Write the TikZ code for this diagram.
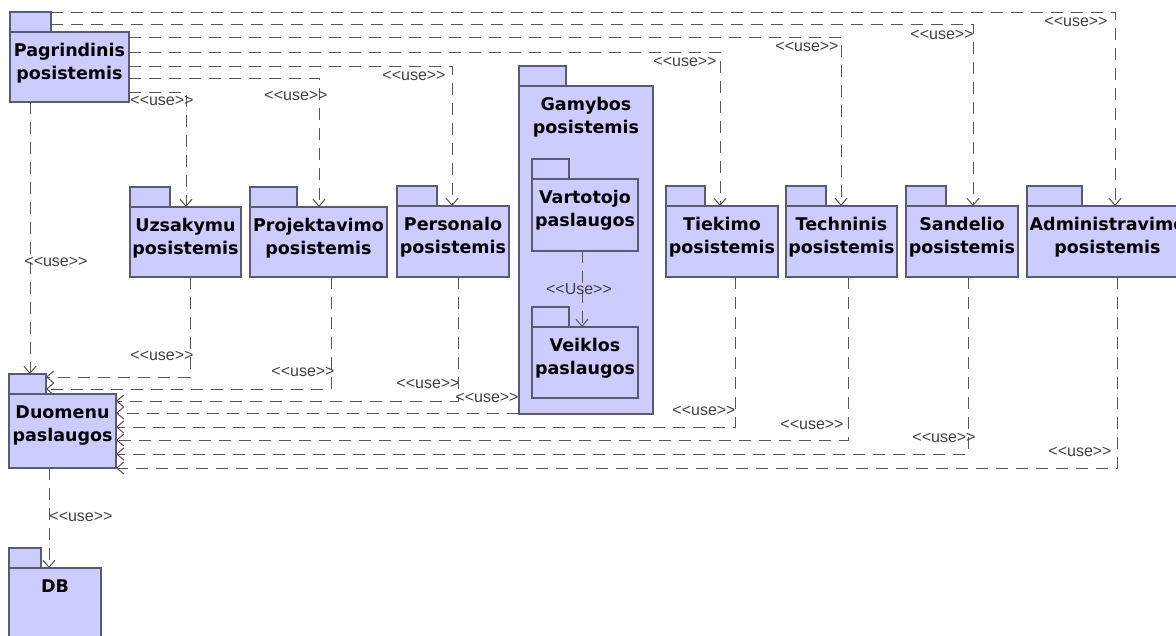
\documentclass[tikz,border=0pt]{standalone}
\usepackage{fontspec}
\setmainfont{DejaVu Sans}
\newfontfamily\labelfont{Liberation Sans}
\usetikzlibrary{arrows.meta}

\definecolor{pkgfill}{RGB}{204,204,255}
\definecolor{pkgline}{RGB}{90,90,112}
\definecolor{depline}{RGB}{85,85,85}

% stereotype text; the kerns keep << and >> from turning into guillemets
\newcommand\useword{<\kern0pt<use>\kern0pt>}
\newcommand\Useword{<\kern0pt<Use>\kern0pt>}

\tikzset{
  pkgbody/.style={draw=pkgline, fill=pkgfill, line width=1.2pt, anchor=north west,
                  inner sep=0pt, outer sep=0pt},
  pkgtab/.style={draw=pkgline, fill=pkgfill, line width=1.2pt, anchor=south west,
                 inner sep=0pt, outer sep=0pt, minimum height=20pt},
  pkgname/.style={anchor=north, align=center, inner sep=0pt,
                  font=\bfseries\fontsize{17.5}{23}\selectfont, text=black},
  usedep/.style={draw=depline, line width=1pt, dash pattern=on 12pt off 8pt,
                 -{Straight Barb[length=7pt,width=12pt]}},
  uselabel/.style={anchor=base, inner sep=0pt,
                   font=\labelfont\fontsize{16}{16}\selectfont, text=black!75},
}

% UML package: name, x, y of body top, tab width, body width, body height, title
\newcommand\umlpackage[7]{%
  \node[pkgbody, minimum width=#5pt, minimum height=#6pt] (#1) at (#2,#3) {};
  \node[pkgtab, minimum width=#4pt] (#1-tab) at (#1.north west) {};
  \node[pkgname] (#1-name) at ([yshift=-10.5pt]#1.north) {\rule{0pt}{14pt}#7};
}

\begin{document}
\begin{tikzpicture}[x=1pt,y=-1pt]
\useasboundingbox (0,0) rectangle (1176,635);
\fill[white] (0,0) rectangle (1176,635);
\clip (0,0) rectangle (1176,635);

% packages
\umlpackage{pg}{10}{32}{41}{119}{70}{Pagrindinis\\posistemis}
\umlpackage{uz}{130}{207}{40}{111}{70}{Uzsakymu\\posistemis}
\umlpackage{pr}{250}{207}{47}{137}{70}{Projektavimo\\posistemis}
\umlpackage{pe}{397}{206}{40}{112}{71}{Personalo\\posistemis}
\umlpackage{ga}{519}{86}{47}{134}{328}{Gamybos\\posistemis}
\umlpackage{va}{532}{179}{37}{106}{72}{Vartotojo\\paslaugos}
\umlpackage{ve}{532}{327}{37}{106}{71}{Veiklos\\paslaugos}
\umlpackage{ti}{666}{206}{39}{112}{71}{Tiekimo\\posistemis}
\umlpackage{te}{786}{206}{40}{111}{71}{Techninis\\posistemis}
\umlpackage{sa}{906}{206}{40}{112}{71}{Sandelio\\posistemis}
\umlpackage{ad}{1027}{206}{55}{161}{71}{Administravimo\\posistemis}
\umlpackage{du}{9}{394}{37}{107}{74}{Duomenu\\paslaugos}
\umlpackage{db}{9}{568}{32}{92}{90}{DB}

% Pagrindinis uses the subsystems
\draw[usedep] (pg-tab.north east) -| ([xshift=88pt]ad.north west);
\draw[usedep] ([yshift=-12pt]pg-tab.north east) -| ([xshift=67pt]sa.north west);
\draw[usedep] ([yshift=-5pt]pg.north east) -| ([xshift=55pt]te.north west);
\draw[usedep] ([yshift=-20pt]pg.north east) -| ([xshift=54pt]ti.north west);
\draw[usedep] ([yshift=-34pt]pg.north east) -| ([xshift=55pt]pe.north west);
\draw[usedep] ([yshift=-46pt]pg.north east) -| ([xshift=69pt]pr.north west);
\draw[usedep] ([yshift=-60pt]pg.north east) -| ([xshift=56pt]uz.north west);
\coordinate (pg-dn) at ([xshift=20pt]pg.south west);
\draw[usedep] (pg-dn) -- (pg-dn |- du-tab.north);

% subsystems use Duomenu paslaugos
\draw[usedep] ([xshift=60pt]uz.south west) |- ([yshift=-3pt]du-tab.north east);
\draw[usedep] ([xshift=81pt]pr.south west) |- ([yshift=-15pt]du-tab.north east);
\draw[usedep] ([xshift=61pt]pe.south west) |- ([yshift=-7pt]du.north east);
\coordinate (ga-out) at ([yshift=1pt]ga.south west);
\draw[usedep] (ga-out) -- (ga-out -| du.east);
\draw[usedep] ([xshift=69pt]ti.south west) |- ([yshift=-33pt]du.north east);
\draw[usedep] ([xshift=62pt]te.south west) |- ([yshift=-46pt]du.north east);
\draw[usedep] ([xshift=62pt]sa.south west) |- ([yshift=-60pt]du.north east);
\draw[usedep] ([xshift=90pt]ad.south west) |- (du.south east);

% inside Gamybos, and down to the database
\coordinate (va-dn) at ([xshift=50pt]va.south west);
\draw[usedep] (va-dn) -- (va-dn |- ve.north);
\coordinate (du-dn) at ([xshift=40pt]du.south west);
\draw[usedep] (du-dn) -- (du-dn |- db.north);

% stereotype labels
\node[uselabel] (l-ad1) at (1076,26) {\useword};
\node[uselabel] (l-sa1) at (942,39) {\useword};
\node[uselabel] (l-te1) at (807,51) {\useword};
\node[uselabel] (l-ti1) at (685,66) {\useword};
\node[uselabel] (l-pe1) at (414,80) {\useword};
\node[uselabel] (l-pr1) at (296,100) {\useword};
\node[uselabel] (l-uz1) at (162,105) {\useword};
\node[uselabel] (l-pg) at (56,266) {\useword};
\node[uselabel] (l-uz2) at (162,360) {\useword};
\node[uselabel] (l-pr2) at (303,376) {\useword};
\node[uselabel] (l-pe2) at (428,388) {\useword};
\node[uselabel] (l-ga) at (487,402) {\useword};
\node[uselabel] (l-ti2) at (704,415) {\useword};
\node[uselabel] (l-te2) at (812,429) {\useword};
\node[uselabel] (l-sa2) at (944,442) {\useword};
\node[uselabel] (l-ad2) at (1080,456) {\useword};
\node[uselabel] (l-va) at (579,294) {\Useword};
\node[uselabel] (l-du) at (81,521) {\useword};
\end{tikzpicture}
\end{document}
